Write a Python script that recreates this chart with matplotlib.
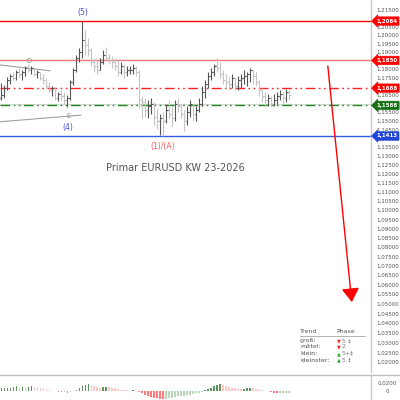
import numpy as np
import matplotlib
matplotlib.use("Agg")
import matplotlib.pyplot as plt
from matplotlib.ticker import FixedLocator, FuncFormatter, NullLocator, NullFormatter
import matplotlib.transforms as mtransforms

# Kursdaten (Tageskerzen), von links nach rechts
highs = [1.1717, 1.1706, 1.1753, 1.1770, 1.1782, 1.1794, 1.1805, 1.1794, 1.1817, 1.1829,
         1.1817, 1.1805, 1.1794, 1.1782, 1.1770, 1.1747, 1.1723, 1.1700, 1.1688, 1.1665,
         1.1677, 1.1665, 1.1647, 1.1735, 1.1805, 1.1881, 1.1922, 1.2082, 1.2028, 1.1981,
         1.1922, 1.1864, 1.1852, 1.1864, 1.1911, 1.1928, 1.1887, 1.1875, 1.1864, 1.1852,
         1.1840, 1.1829, 1.1817, 1.1817, 1.1829, 1.1817, 1.1794, 1.1641, 1.1630, 1.1618,
         1.1630, 1.1606, 1.1571, 1.1536, 1.1548, 1.1595, 1.1618, 1.1583, 1.1618, 1.1630,
         1.1595, 1.1560, 1.1583, 1.1618, 1.1595, 1.1583, 1.1630, 1.1700, 1.1735, 1.1782,
         1.1805, 1.1829, 1.1864, 1.1840, 1.1794, 1.1770, 1.1758, 1.1770, 1.1747, 1.1758,
         1.1770, 1.1794, 1.1782, 1.1805, 1.1794, 1.1782, 1.1735, 1.1688, 1.1665, 1.1653,
         1.1641, 1.1653, 1.1665, 1.1677, 1.1665, 1.1682, 1.1677]
lows = [1.1618, 1.1630, 1.1677, 1.1712, 1.1735, 1.1735, 1.1747, 1.1735, 1.1758, 1.1782,
        1.1770, 1.1758, 1.1747, 1.1735, 1.1712, 1.1688, 1.1665, 1.1641, 1.1618, 1.1612,
        1.1618, 1.1595, 1.1577, 1.1618, 1.1706, 1.1782, 1.1840, 1.1864, 1.1881, 1.1875,
        1.1817, 1.1782, 1.1770, 1.1794, 1.1829, 1.1852, 1.1829, 1.1805, 1.1794, 1.1758,
        1.1770, 1.1747, 1.1758, 1.1770, 1.1770, 1.1758, 1.1571, 1.1513, 1.1524, 1.1513,
        1.1536, 1.1478, 1.1454, 1.1419, 1.1413, 1.1489, 1.1513, 1.1466, 1.1501, 1.1548,
        1.1513, 1.1443, 1.1478, 1.1524, 1.1501, 1.1501, 1.1548, 1.1583, 1.1630, 1.1688,
        1.1735, 1.1758, 1.1782, 1.1747, 1.1712, 1.1688, 1.1677, 1.1688, 1.1677, 1.1677,
        1.1688, 1.1712, 1.1700, 1.1723, 1.1712, 1.1700, 1.1641, 1.1606, 1.1583, 1.1583,
        1.1577, 1.1583, 1.1595, 1.1618, 1.1595, 1.1606, 1.1618]
closes = [1.1647, 1.1688, 1.1735, 1.1758, 1.1747, 1.1782, 1.1770, 1.1782, 1.1805, 1.1794,
          1.1805, 1.1770, 1.1782, 1.1747, 1.1735, 1.1700, 1.1677, 1.1688, 1.1630, 1.1653,
          1.1641, 1.1618, 1.1630, 1.1723, 1.1794, 1.1864, 1.1899, 1.1969, 1.1940, 1.1911,
          1.1840, 1.1817, 1.1794, 1.1840, 1.1881, 1.1864, 1.1852, 1.1840, 1.1817, 1.1782,
          1.1817, 1.1782, 1.1794, 1.1794, 1.1805, 1.1782, 1.1618, 1.1606, 1.1560, 1.1583,
          1.1595, 1.1524, 1.1501, 1.1513, 1.1501, 1.1560, 1.1536, 1.1513, 1.1595, 1.1583,
          1.1536, 1.1501, 1.1548, 1.1595, 1.1536, 1.1560, 1.1595, 1.1665, 1.1712, 1.1758,
          1.1782, 1.1817, 1.1805, 1.1770, 1.1735, 1.1723, 1.1712, 1.1747, 1.1700, 1.1735,
          1.1747, 1.1758, 1.1770, 1.1794, 1.1758, 1.1723, 1.1677, 1.1641, 1.1618, 1.1630,
          1.1595, 1.1618, 1.1641, 1.1653, 1.1630, 1.1665, 1.1647]
first_open = 1.1630

# Indikator unten (Histogramm)
osc = [0.006, 0.006, 0.007, 0.008, 0.009, 0.011, 0.010, 0.010, 0.009, 0.010,
       0.011, 0.010, 0.009, 0.008, 0.006, 0.004, 0.002, 0.000, -0.002, -0.003,
       -0.004, -0.004, -0.005, -0.003, -0.001, 0.002, 0.006, 0.011, 0.016, 0.018,
       0.016, 0.012, 0.009, 0.008, 0.009, 0.010, 0.009, 0.008, 0.006, 0.004,
       0.003, 0.002, 0.001, 0.000, 0.001, 0.000, -0.003, -0.007, -0.011, -0.014,
       -0.017, -0.018, -0.020, -0.021, -0.022, -0.021, -0.019, -0.018, -0.016, -0.015,
       -0.014, -0.013, -0.012, -0.010, -0.009, -0.007, -0.005, -0.003, 0.001, 0.004,
       0.008, 0.012, 0.016, 0.018, 0.016, 0.013, 0.010, 0.008, 0.006, 0.005,
       0.004, 0.005, 0.006, 0.007, 0.006, 0.005, 0.003, 0.001, -0.001, -0.002,
       -0.004, -0.006, -0.007, -0.006, -0.006, -0.005, -0.005]

# Horizontale Marken
levels = [1.2084, 1.1850, 1.1688, 1.1588, 1.1413]
level_colors = ["#ff0000", "#f07878", "#ff2020", "#1f8a1f", "#3060e0"]
tag_colors = ["#ff0000", "#ff0000", "#ff0000", "#157015", "#1f45d8"]
level_styles = ["solid", "solid", (0, (7, 2.5, 1.2, 2.5, 1.2, 2.5)),
                (0, (7, 2.5, 1.2, 2.5, 1.2, 2.5)), "solid"]

yticks = np.round(np.arange(1.020, 1.2151, 0.005), 3)

fig = plt.figure(figsize=(4, 4), dpi=100)
ax = fig.add_axes([0, 0.07, 0.9275, 0.93])
ax2 = fig.add_axes([0, 0, 0.9275, 0.06])

n = len(closes)
x = np.arange(n)
opens = [first_open] + closes[:-1]
cols = ["#555555" if c >= o else "#c4c4c4" for o, c in zip(opens, closes)]
ax.vlines(x, lows, highs, colors=cols, lw=0.8, zorder=3)
ax.hlines(opens, x - 0.45, x, colors=cols, lw=0.8, zorder=3)
ax.hlines(closes, x, x + 0.45, colors=cols, lw=0.8, zorder=3)

for lv, c, ls in zip(levels, level_colors, level_styles):
    ax.axhline(lv, color=c, lw=1.0, linestyle=ls, zorder=2)
ax.axhline(1.1597, color="#d8d8d8", lw=0.8, zorder=1)

trans = mtransforms.blended_transform_factory(ax.transAxes, ax.transData)
for lv, c in zip(levels, tag_colors):
    ax.text(1.014, lv, f"{lv:.4f}".replace(".", ","), transform=trans, color="white",
            fontsize=4, fontweight="bold", va="center", ha="left", clip_on=False, zorder=10,
            bbox=dict(boxstyle="larrow,pad=0.3", fc=c, ec=c, lw=0.5))

# Trendlinien D und E
ax.plot([-0.5, 16.2], [1.1823, 1.1789], color="#a0a0a0", lw=0.8)
ax.plot([-0.5, 26.5], [1.1494, 1.1532], color="#a0a0a0", lw=0.8)
ax.text(9.2, 1.1846, "D", color="#909090", fontsize=5, ha="center", va="center")
ax.text(22.2, 1.1527, "E", color="#909090", fontsize=5, ha="center", va="center")
ax.text(22.2, 1.1464, "(4)", color="#4a50e0", fontsize=5.5, ha="center", va="center")
ax.text(27.2, 1.2134, "(5)", color="#4a50e0", fontsize=5.5, ha="center", va="center")
ax.text(53.8, 1.1356, "(1)/(A)", color="#ff5a5a", fontsize=5.5, ha="center", va="center")
ax.text(0.472, 0.548, "Primar EURUSD KW 23-2026", transform=ax.transAxes, color="#555555",
        fontsize=7, ha="center", va="center")

ax.annotate("", xy=(116.8, 1.0509), xytext=(108.8, 1.1817),
            arrowprops=dict(arrowstyle="-|>,head_length=0.7,head_width=0.45", color="#ff0000",
                            lw=1.0, mutation_scale=12, shrinkA=0, shrinkB=0))

ax.set_yscale("log")
ax.set_ylim(1.0150, 1.2211)
ax.set_xlim(-0.5, 123.2)
ax.yaxis.set_major_locator(FixedLocator(yticks))
ax.yaxis.set_minor_locator(NullLocator())
ax.yaxis.set_minor_formatter(NullFormatter())
ax.yaxis.set_major_formatter(FuncFormatter(lambda v, p: f"{v:.5f}".replace(".", ",")))
ax.yaxis.tick_right()
ax.tick_params(axis="y", length=0, pad=3.6, labelsize=4, labelcolor="#555555")
ax.set_xticks([])
for s in ["top", "left", "bottom"]:
    ax.spines[s].set_visible(False)
ax.spines["right"].set_color("#c8c8c8")
ax.spines["right"].set_linewidth(1.0)

# Histogramm
hcols = []
for i, v in enumerate(osc):
    prev = osc[i - 1] if i > 0 else osc[0]
    if v >= prev:
        hcols.append("#5f925f" if v >= 0 else "#b9d6b9")
    else:
        hcols.append("#ffc4c4" if v >= 0 else "#ff7a7a")
ax2.bar(x, osc, width=0.65, color=hcols)
ax2.set_xlim(-0.5, 123.2)
ax2.set_ylim(-0.0242, 0.0382)
ax2.set_xticks([])
ax2.yaxis.tick_right()
ax2.set_yticks([0.02, 0])
ax2.set_yticklabels(["0,0200", "0"])
ax2.tick_params(axis="y", length=0, pad=11.5, labelsize=4, labelcolor="#555555")
for lab in ax2.get_yticklabels():
    lab.set_horizontalalignment("center")
for s in ["top", "left", "bottom"]:
    ax2.spines[s].set_visible(False)
ax2.spines["right"].set_color("#c8c8c8")
ax2.spines["right"].set_linewidth(1.0)

fig.add_artist(plt.Line2D([0, 1], [0.0625, 0.0625], color="#c0c0c0", lw=1.0))

# Trend/Phase Tabelle
def fy(py):
    return 1 - py / 400

fig.text(300 / 400, fy(331.7), "Trend", fontsize=4.5, color="#555555", va="center")
fig.text(336 / 400, fy(331.7), "Phase", fontsize=4.5, color="#555555", va="center")
fig.add_artist(plt.Line2D([300 / 400, 365 / 400], [fy(335.5), fy(335.5)], color="#aaaaaa", lw=0.6))
rows = ["groß:", "mittel:", "klein:", "kleinster:"]
phases = ["5 ‡", "2", "5+‡", "5 ‡"]
arrows = ["▼", "▼", "▲", "▲"]
arrow_cols = ["#ff2020", "#ff2020", "#2ca02c", "#2ca02c"]
row_y = [340.7, 346.7, 353.5, 360.0]
for r, ph, a, ac, py in zip(rows, phases, arrows, arrow_cols, row_y):
    fig.text(300 / 400, fy(py), r, fontsize=4.5, color="#555555", va="center")
    fig.text(338.5 / 400, fy(py), a, fontsize=3.5, color=ac, va="center", ha="center")
    fig.text(342 / 400, fy(py), ph, fontsize=4.5, color="#777777", va="center")

fig.savefig("out.png", dpi=100)
